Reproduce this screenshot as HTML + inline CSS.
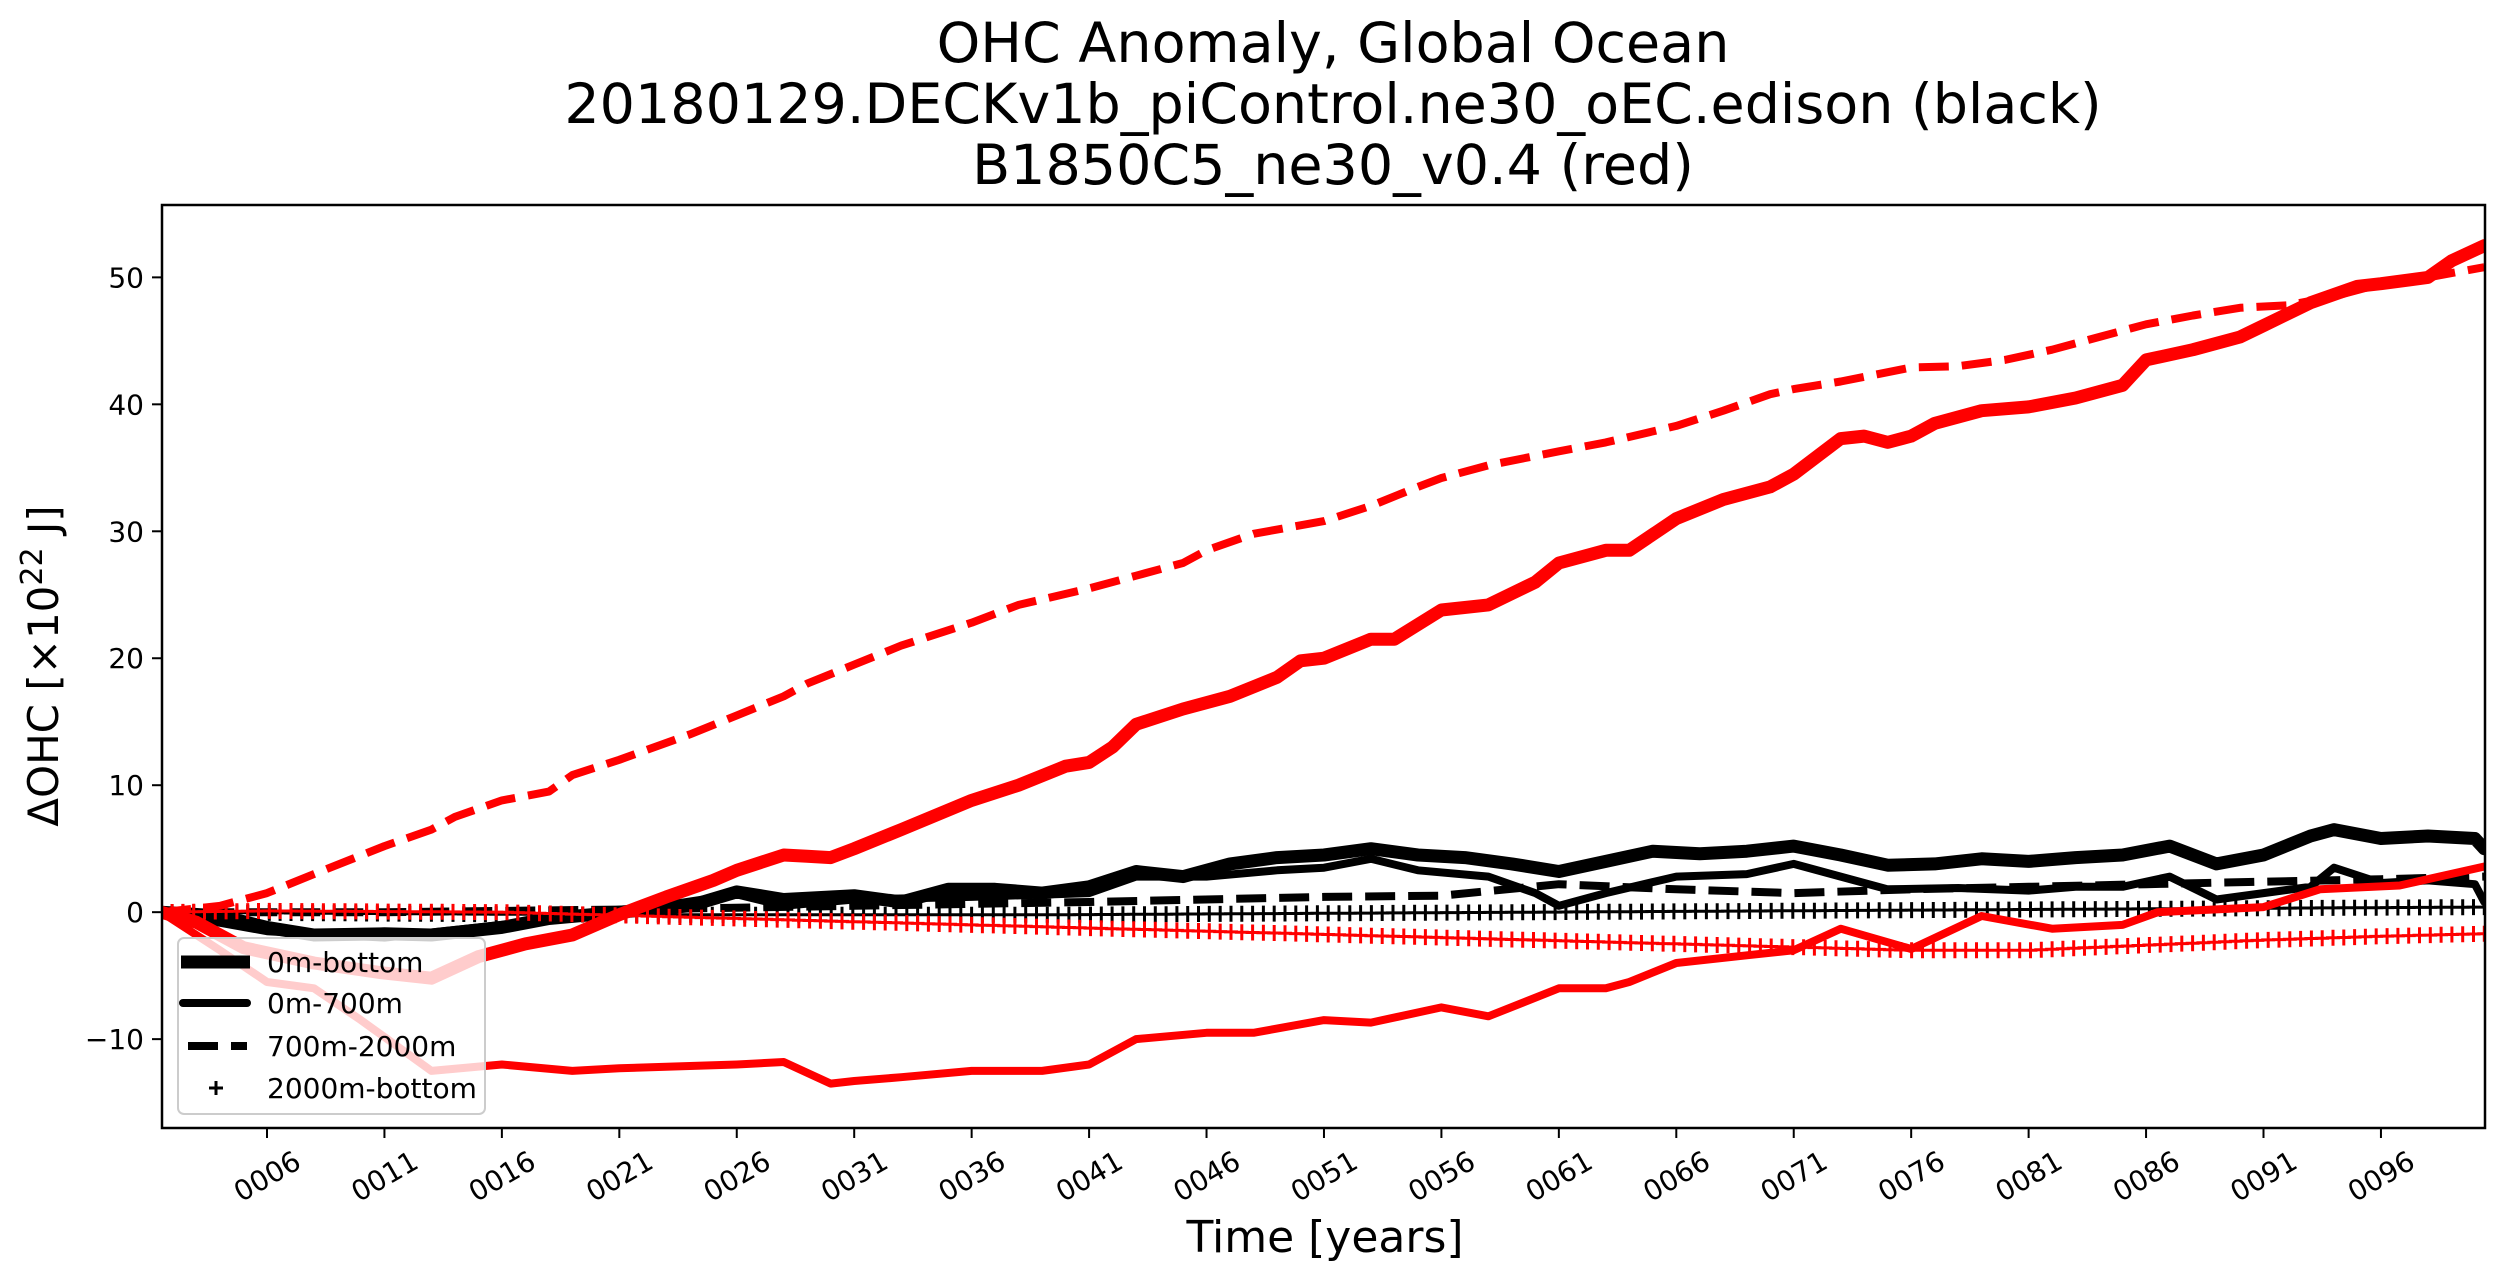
<!DOCTYPE html>
<html><head><meta charset="utf-8">
<style>
html,body{margin:0;padding:0;background:#fff;}
svg{display:block;font-family:"DejaVu Sans","Liberation Sans",sans-serif;}
</style></head>
<body>
<svg id="chart" width="2511" height="1281" viewBox="0 0 2511 1281" xmlns="http://www.w3.org/2000/svg">
<rect width="2511" height="1281" fill="#fff"/>
<g font-size="55.5" text-anchor="middle" fill="#000">
<text x="1333" y="62">OHC Anomaly, Global Ocean</text>
<text x="1333" y="123">20180129.DECKv1b_piControl.ne30_oEC.edison (black)</text>
<text x="1333" y="184">B1850C5_ne30_v0.4 (red)</text>
</g>
<defs><clipPath id="clip"><rect x="162" y="205" width="2323" height="923"/></clipPath></defs>
<g id="series" clip-path="url(#clip)"></g>
<rect x="162" y="205" width="2323" height="923" fill="none" stroke="#000" stroke-width="2.5"/>
<g id="yticks"></g>
<g id="xticks"></g>
<text x="1325" y="1252" font-size="44" text-anchor="middle">Time [years]</text>
<text transform="translate(58,666) rotate(-90)" font-size="42" text-anchor="middle">ΔOHC [×10<tspan dy="-16" font-size="30">22</tspan><tspan dy="16"> J]</tspan></text>
<g>
<rect x="178" y="938" width="307" height="176" rx="6" fill="#fff" fill-opacity="0.8" stroke="#ccc" stroke-width="2"/>
<g><line x1="181" y1="962" x2="250" y2="962" stroke="#000" stroke-width="13"/><text x="267" y="972" font-size="28">0m-bottom</text></g>
<g><line x1="183" y1="1003" x2="247" y2="1003" stroke="#000" stroke-width="8" stroke-linecap="round"/><text x="267" y="1013" font-size="28">0m-700m</text></g>
<g><line x1="188" y1="1046" x2="247" y2="1046" stroke="#000" stroke-width="8" stroke-dasharray="30,13"/><text x="267" y="1056" font-size="28">700m-2000m</text></g>
<g><path d="M209 1088h14M216 1081v14" stroke="#000" stroke-width="3"/><text x="267" y="1098" font-size="28">2000m-bottom</text></g>
</g>
</svg>
<script>
// data (years, values in 1e22 J)
const blackBottomX = [1.5,4,6,8,11,13,16,18,21,24,26,28,31,33,35,37,39,41,43,45,47,49,51,53,55,57,59,61,63,65,67,69,71,73,75,77,79,81,83,85,87,89,91,93,94,96,98,100,100.4];
const blackBottomY = [0,-0.3,-1.2,-1.8,-1.7,-1.8,-1.2,-0.5,0,0.5,1.6,1.0,1.3,0.8,1.8,1.8,1.5,2.0,3.2,2.8,3.8,4.3,4.5,5.0,4.5,4.3,3.8,3.2,4.0,4.8,4.6,4.8,5.2,4.5,3.7,3.8,4.2,4.0,4.3,4.5,5.2,3.8,4.5,6.0,6.5,5.8,6.0,5.8,5.0];
const black700X = [1.5,6,11,16,21,26,28,31,36,41,43,46,49,51,53,55,58,60,61,63,66,69,71,73,75,78,81,83,85,87,89,91,93,94,96,98,100,100.4];
const black700Y = [0,-1.5,-2,-1,0,1.4,0.5,1.0,1.2,1.5,2.8,2.8,3.3,3.5,4.2,3.3,2.8,1.5,0.5,1.5,2.8,3.0,3.8,2.8,1.8,1.9,1.7,2.0,2.0,2.8,1.0,1.5,2.0,3.5,2.3,2.5,2.2,0.8];
const black2000X = [1.5,11,21,31,41,51,56,61,66,71,76,81,86,91,96,100.4];
const black2000Y = [0,0,0.2,0.5,0.8,1.2,1.3,2.2,1.8,1.5,1.8,2.0,2.2,2.4,2.6,2.8];
const blackDeepX = [1.5,10,20,30,40,50,60,70,80,90,100.4];
const blackDeepY = [0,-0.1,-0.2,-0.2,-0.2,-0.1,0,0.1,0.2,0.3,0.4];
const redBottomX = [1.5,3,5,8,11,13,15,17,19,21,23,25,26,28,29,30,31,33,36,38,40,41,42,43,45,47,49,50,51,53,54,56,58,60,61,63,64,66,68,70,71,73,74,75,76,77,79,81,83,85,86,88,90,91,93,95,96,98,99,100.4];
const redBottomY = [0,-0.8,-2.8,-4,-4.8,-5.2,-3.5,-2.5,-1.8,-0.2,1.2,2.5,3.3,4.5,4.4,4.3,5.0,6.5,8.8,10,11.5,11.8,13,14.8,16,17,18.5,19.8,20,21.5,21.5,23.8,24.2,26,27.5,28.5,28.5,31,32.5,33.5,34.5,37.3,37.5,37,37.5,38.5,39.5,39.8,40.5,41.5,43.5,44.3,45.3,46.2,48,49.3,49.5,50,51.3,52.5];
const red700X = [1.5,4,6,8,10,13,16,19,21,26,28,30,31,33,36,39,41,43,46,48,51,53,56,58,61,63,64,66,69,71,73,76,79,82,85,86.5,91,93.4,96.8,100.4];
const red700Y = [0,-3,-5.5,-6,-8.5,-12.5,-12,-12.5,-12.3,-12,-11.8,-13.5,-13.3,-13,-12.5,-12.5,-12,-10,-9.5,-9.5,-8.5,-8.7,-7.5,-8.2,-6,-6,-5.5,-4,-3.4,-3,-1.3,-2.9,-0.3,-1.3,-1,0,0.4,1.8,2.1,3.6];
const red2000X = [1.5,4,6,8,11,13,14,16,18,19,21,24,26,28,29,31,33,36,38,41,43,45,46,48,51,53,55,56,58,61,63,66,68,70,71,73,76,78,80,82,84,86,88,90,92,94,96,98,100.4];
const red2000Y = [0,0.5,1.5,3,5.2,6.5,7.5,8.8,9.5,10.8,12,14,15.5,17,18,19.5,21,22.8,24.2,25.5,26.5,27.5,28.5,29.8,30.8,32,33.5,34.2,35.2,36.3,37,38.3,39.5,40.8,41.2,41.8,42.9,43,43.5,44.3,45.3,46.3,47,47.6,47.8,48.5,49.5,50,50.8];
const redDeepX = [1.5,6,16,26,36,46,56,66,76,81,86,91,96,100.4];
const redDeepY = [0,0.1,0,-0.5,-1,-1.5,-2,-2.5,-3,-3,-2.6,-2.2,-1.9,-1.7];
const yTickValues = [-10,0,10,20,30,40,50];
const yTickLabels = ["\u221210","0","10","20","30","40","50"];
const xTickValues = [6,11,16,21,26,31,36,41,46,51,56,61,66,71,76,81,86,91,96];

const X0=162, X1=2485, Y0=205, Y1=1128;
const xMin=1.53, xMax=100.43, yMin=-17.0, yMax=55.7;
function sx(v){return X0+(v-xMin)/(xMax-xMin)*(X1-X0);}
function sy(v){return Y1-(v-yMin)/(yMax-yMin)*(Y1-Y0);}
const NS="http://www.w3.org/2000/svg";
const g=document.getElementById('series');
function pathD(xs,ys){return xs.map((x,i)=>(i?'L':'M')+sx(x).toFixed(1)+' '+sy(ys[i]).toFixed(1)).join('');}
function interp(xs,ys,x){for(let i=1;i<xs.length;i++){if(x<=xs[i]){const t=(x-xs[i-1])/(xs[i]-xs[i-1]);return ys[i-1]+t*(ys[i]-ys[i-1]);}}return ys[ys.length-1];}
function line(xs,ys,color,w,dash,name){
  const p=document.createElementNS(NS,'path');
  p.setAttribute('d',pathD(xs,ys));
  p.setAttribute('fill','none');p.setAttribute('stroke',color);p.setAttribute('stroke-width',w);
  p.setAttribute('stroke-linejoin','round');
  if(dash)p.setAttribute('stroke-dasharray',dash);else p.setAttribute('stroke-linecap','round');
  
  
  g.appendChild(p);
}
function plus(xs,ys,color,name){
  let d='';
  for(let x=xs[0];x<=xs[xs.length-1];x+=0.46){
    const px=sx(x),py=sy(interp(xs,ys,x));
    d+='M'+(px-7).toFixed(1)+' '+py.toFixed(1)+'h14M'+px.toFixed(1)+' '+(py-8).toFixed(1)+'v16';
  }
  const p=document.createElementNS(NS,'path');
  p.setAttribute('d',d);p.setAttribute('stroke',color);p.setAttribute('stroke-width','3');p.setAttribute('fill','none');
  
  
  g.appendChild(p);
  line(xs,ys,color,2,null,name+'-line');
}
line(blackBottomX,blackBottomY,'#000',13,null,'black-0m-bottom');
line(black700X,black700Y,'#000',8,null,'black-0m-700m');
line(black2000X,black2000Y,'#000',8,'30,13','black-700m-2000m');
plus(blackDeepX,blackDeepY,'#000','black-2000m-bottom');
line(redBottomX,redBottomY,'#f00',13,null,'red-0m-bottom');
line(red700X,red700Y,'#f00',8,null,'red-0m-700m');
line(red2000X,red2000Y,'#f00',8,'30,13','red-700m-2000m');
plus(redDeepX,redDeepY,'#f00','red-2000m-bottom');

const yt=document.getElementById('yticks');
yTickValues.forEach((v,i)=>{
  const y=sy(v);
  const l=document.createElementNS(NS,'line');
  l.setAttribute('x1',X0-10);l.setAttribute('x2',X0);l.setAttribute('y1',y);l.setAttribute('y2',y);
  l.setAttribute('stroke','#000');l.setAttribute('stroke-width','2');
  
  
  yt.appendChild(l);
  const t=document.createElementNS(NS,'text');
  t.setAttribute('x',X0-18);t.setAttribute('y',y+10);t.setAttribute('text-anchor','end');t.setAttribute('font-size','28');
  t.textContent=yTickLabels[i];
  
  
  yt.appendChild(t);
});
const xt=document.getElementById('xticks');
xTickValues.forEach(v=>{
  const x=sx(v);
  const l=document.createElementNS(NS,'line');
  l.setAttribute('x1',x);l.setAttribute('x2',x);l.setAttribute('y1',Y1);l.setAttribute('y2',Y1+10);
  l.setAttribute('stroke','#000');l.setAttribute('stroke-width','2');
  
  
  xt.appendChild(l);
  const t=document.createElementNS(NS,'text');
  t.setAttribute('transform','translate('+x+',1176) rotate(-30)');
  t.setAttribute('text-anchor','middle');t.setAttribute('dy','10');t.setAttribute('font-size','28');
  t.textContent=String(v).padStart(4,'0');
  
  
  xt.appendChild(t);
});
</script>
</body></html>
